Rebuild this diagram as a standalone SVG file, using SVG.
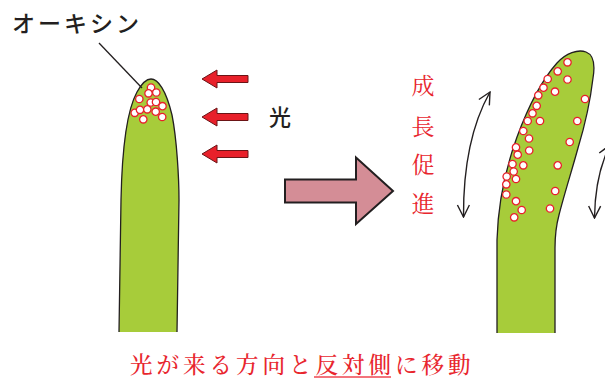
<svg xmlns="http://www.w3.org/2000/svg" width="605" height="381" viewBox="0 0 605 381">
  <style>
    .stem { fill: #a7cc3a; stroke: none; }
    .edge { fill: none; stroke: #231f20; stroke-width: 1.3; }
    .dot { fill: #ffffff; stroke: #e8202a; stroke-width: 1.3; }
    .light { fill: #e8202a; stroke: #6b1416; stroke-width: 1; }
    .bend { fill: none; stroke: #231f20; stroke-width: 1.4; marker-start: url(#vhead); marker-end: url(#vhead); }
    .gothic { font-family: "Noto Sans CJK JP", "Noto Sans", sans-serif; fill: #231f20; }
    .mincho { font-family: "Noto Serif CJK JP", "Noto Sans CJK JP", serif; fill: #e8262e; }
  </style>
  <defs>
    <marker id="vhead" viewBox="0 0 14 14" refX="13" refY="7" markerWidth="14" markerHeight="14" markerUnits="userSpaceOnUse" orient="auto-start-reverse">
      <path d="M1,1 L13,7 L1,13" fill="none" stroke="#231f20" stroke-width="1.4"/>
    </marker>
    <g id="dot"><circle r="3.7" class="dot"/></g>
  </defs>

  <!-- straight shoot, auxin gathered in the tip -->
  <g id="shoot-before">
    <path class="stem" d="M119,332 L121,200 C122,150 126,112 137,92 C142,83 147,79 151,79 C158,79 166,90 172,115 C177,140 179,180 179,200 L177,332 Z"/>
    <path class="edge" d="M119,332 L121,200 C122,150 126,112 137,92 C142,83 147,79 151,79 C158,79 166,90 172,115 C177,140 179,180 179,200 L177,332"/>
    <g id="auxin-tip">
      <use href="#dot" x="151" y="87.5"/>
      <use href="#dot" x="148.5" y="93.3"/>
      <use href="#dot" x="156.3" y="92.5"/>
      <use href="#dot" x="139.3" y="99"/>
      <use href="#dot" x="150.7" y="102.5"/>
      <use href="#dot" x="156" y="102"/>
      <use href="#dot" x="162.5" y="106.2"/>
      <use href="#dot" x="134.7" y="112.8"/>
      <use href="#dot" x="140" y="109.8"/>
      <use href="#dot" x="147.3" y="109.3"/>
      <use href="#dot" x="155.7" y="111.7"/>
      <use href="#dot" x="162.2" y="117"/>
      <use href="#dot" x="143.3" y="119.3"/>
    </g>
  </g>

  <!-- auxin label -->
  <g id="label-auxin">
    <line x1="99" y1="43" x2="142" y2="88" stroke="#231f20" stroke-width="1.3"/>
    <text class="gothic" x="12" y="32" font-size="23" font-weight="500" letter-spacing="3">オーキシン</text>
  </g>

  <!-- incoming light -->
  <g id="light">
    <path class="light" d="M202,79 L217,70 L217,75.5 L248,75.5 L248,82.5 L217,82.5 L217,88 Z"/>
    <path class="light" d="M202,117 L217,108 L217,113.5 L248,113.5 L248,120.5 L217,120.5 L217,126 Z"/>
    <path class="light" d="M202,154 L217,145 L217,150.5 L248,150.5 L248,157.5 L217,157.5 L217,163 Z"/>
    <text class="gothic" x="280" y="125" font-size="22" font-weight="500" text-anchor="middle">光</text>
  </g>

  <!-- transition arrow -->
  <g id="transition">
    <path d="M285,179.5 L356,179.5 L356,157.5 L393,191 L356,224 L356,202.5 L285,202.5 Z" fill="#d48d96" stroke="#231f20" stroke-width="2" stroke-linejoin="miter"/>
  </g>

  <!-- growth promotion label -->
  <g id="label-growth" class="mincho" font-size="23" text-anchor="middle">
    <text x="423" y="94">成</text>
    <text x="423" y="135">長</text>
    <text x="423" y="173">促</text>
    <text x="423" y="212">進</text>
  </g>

  <!-- bent shoot, auxin moved to the shaded side -->
  <g id="shoot-after">
    <path class="stem" d="M497,333 L497,240 C498,205 505,170 517,137 C527,110 540,82 557,63 C566,53 578,49 586,52 C594,55 595,66 593,78 C591,95 585,125 578,148 C572,170 564,195 559,215 C556,226 555,236 555,248 L555,333 Z"/>
    <path class="edge" d="M497,333 L497,240 C498,205 505,170 517,137 C527,110 540,82 557,63 C566,53 578,49 586,52 C594,55 595,66 593,78 C591,95 585,125 578,148 C572,170 564,195 559,215 C556,226 555,236 555,248 L555,333"/>
    <g id="auxin-shaded">
      <use href="#dot" x="567.5" y="62.3"/>
      <use href="#dot" x="557.7" y="71.3"/>
      <use href="#dot" x="547.7" y="79"/>
      <use href="#dot" x="567.5" y="79.5"/>
      <use href="#dot" x="543.5" y="87.7"/>
      <use href="#dot" x="555" y="91.7"/>
      <use href="#dot" x="538.3" y="95.3"/>
      <use href="#dot" x="585" y="99"/>
      <use href="#dot" x="536.7" y="105.8"/>
      <use href="#dot" x="532.5" y="113.3"/>
      <use href="#dot" x="527.7" y="121"/>
      <use href="#dot" x="540" y="121"/>
      <use href="#dot" x="577.3" y="121"/>
      <use href="#dot" x="523.3" y="131"/>
      <use href="#dot" x="529" y="138.5"/>
      <use href="#dot" x="569.7" y="142"/>
      <use href="#dot" x="516" y="147.3"/>
      <use href="#dot" x="529.2" y="150.5"/>
      <use href="#dot" x="517.7" y="154.7"/>
      <use href="#dot" x="512.5" y="164"/>
      <use href="#dot" x="523.3" y="165.3"/>
      <use href="#dot" x="557.7" y="165.3"/>
      <use href="#dot" x="513.7" y="171.5"/>
      <use href="#dot" x="506.7" y="176.5"/>
      <use href="#dot" x="516" y="179"/>
      <use href="#dot" x="506.3" y="184.3"/>
      <use href="#dot" x="555.2" y="191"/>
      <use href="#dot" x="506.3" y="194.5"/>
      <use href="#dot" x="516" y="201.2"/>
      <use href="#dot" x="550" y="208.5"/>
      <use href="#dot" x="521.7" y="210"/>
      <use href="#dot" x="514.2" y="217.3"/>
    </g>
  </g>

  <!-- bending arrows -->
  <g id="connectors">
    <path class="bend" d="M490,92 Q463,140 463.5,217"/>
    <path class="bend" d="M610,145 Q595,175 594.5,218"/>
  </g>

  <!-- caption -->
  <g id="caption">
    <text class="mincho" x="130" y="373" font-size="22.5" font-weight="500" letter-spacing="4">光が来る方向と反対側に移動</text>
    <line x1="314" y1="377" x2="391" y2="377" stroke="#ef4650" stroke-width="1.5"/>
  </g>
</svg>
